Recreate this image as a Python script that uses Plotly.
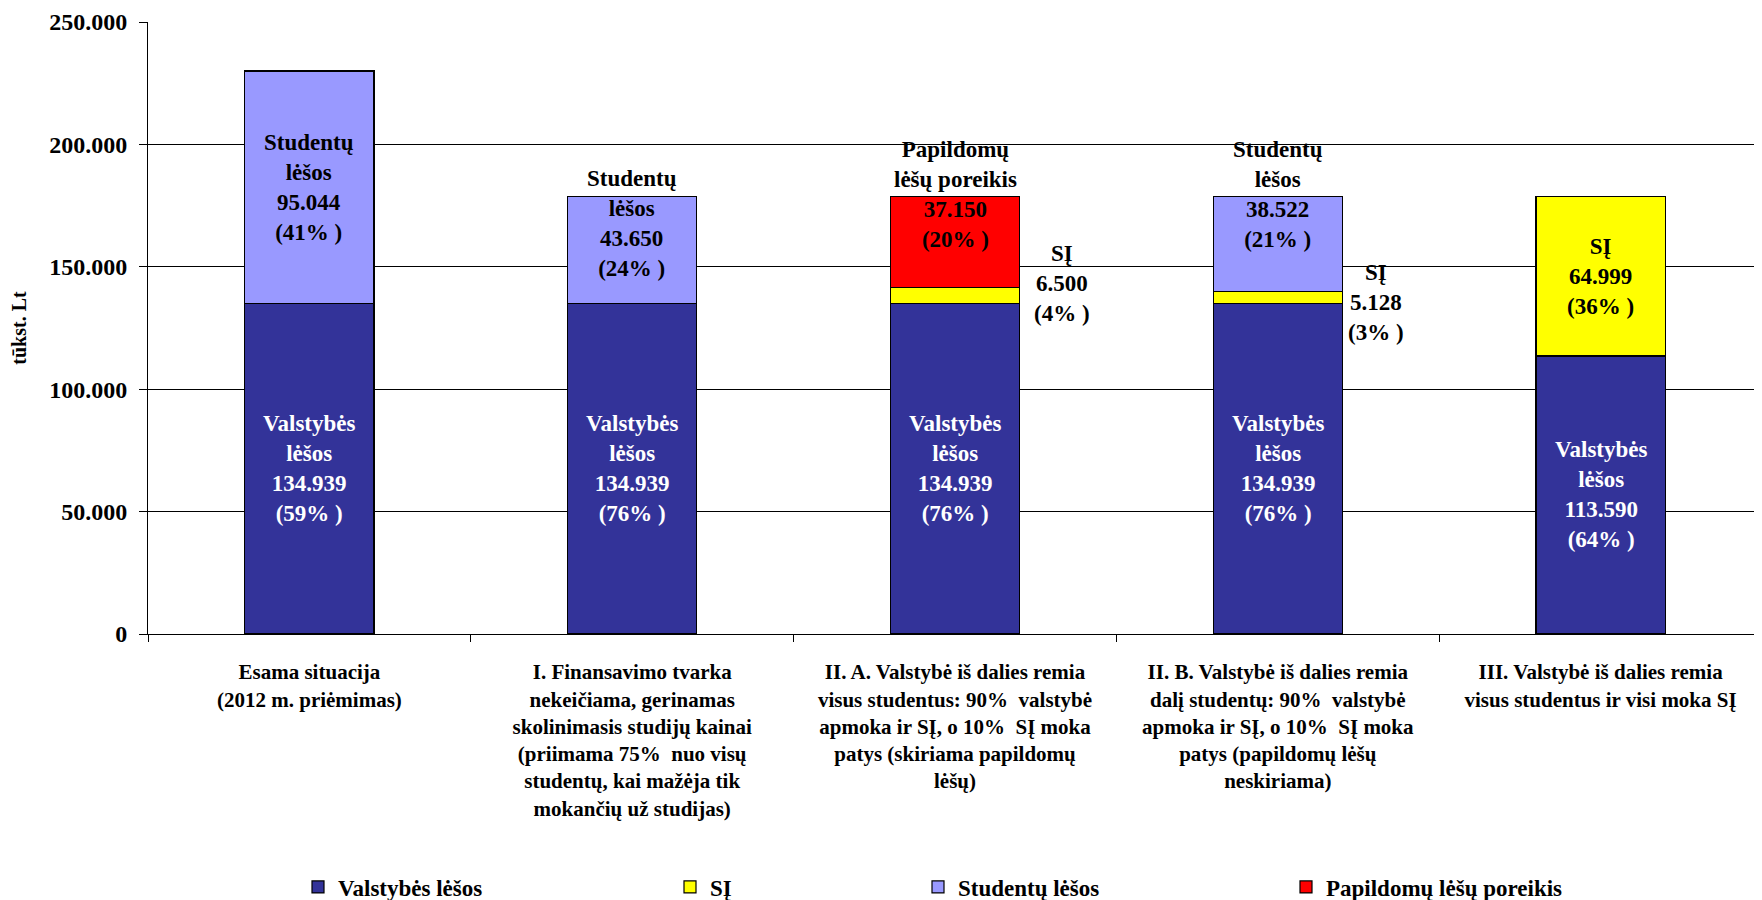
import plotly.graph_objects as go

categories = [
    "Esama situacija<br>(2012 m. priėmimas)",
    "I. Finansavimo tvarka<br>nekeičiama, gerinamas<br>skolinimasis studijų kainai<br>(priimama 75%  nuo visų<br>studentų, kai mažėja tik<br>mokančių už studijas)",
    "II. A. Valstybė iš dalies remia<br>visus studentus: 90%  valstybė<br>apmoka ir SĮ, o 10%  SĮ moka<br>patys (skiriama papildomų<br>lėšų)",
    "II. B. Valstybė iš dalies remia<br>dalį studentų: 90%  valstybė<br>apmoka ir SĮ, o 10%  SĮ moka<br>patys (papildomų lėšų<br>neskiriama)",
    "III. Valstybė iš dalies remia<br>visus studentus ir visi moka SĮ",
]
valstybes = [134939, 134939, 134939, 134939, 113590]
si = [None, None, 6500, 5128, 64999]
studentu = [95044, 43650, None, 38522, None]
papildomu = [None, None, 37150, None, None]

valstybes_pct = [59, 76, 76, 76, 64]
si_pct = [None, None, 4, 3, 36]
studentu_pct = [41, 24, None, 21, None]
papildomu_pct = [None, None, 20, None, None]

y_ticks = [0, 50000, 100000, 150000, 200000, 250000]

series = [
    ("Valstybės lėšos", valstybes, valstybes_pct, "#333399", "Valstybės<br>lėšos", "white", "legend"),
    ("SĮ", si, si_pct, "#FFFF00", "SĮ", "black", "legend2"),
    ("Studentų lėšos", studentu, studentu_pct, "#9999FF", "Studentų<br>lėšos", "black", "legend3"),
    ("Papildomų lėšų poreikis", papildomu, papildomu_pct, "#FF0000", "Papildomų<br>lėšų poreikis", "black", "legend4"),
]

# label offsets (px) per series per category: (xshift, yshift)
offsets = {
    "Studentų lėšos": {1: (0, 27), 3: (0, 49)},
    "Papildomų lėšų poreikis": {2: (0, 48)},
    "SĮ": {2: (107, 12), 3: (98, -5)},
}

FONT = "Liberation Serif"
fig = go.Figure()
base = [0] * len(categories)
annotations = []
for name, vals, pcts, color, lbl, tcolor, leg in series:
    fig.add_trace(go.Bar(
        name=name, x=categories, y=vals,
        marker=dict(color=color, line=dict(color="black", width=1.2)),
        legend=leg, hoverinfo="skip",
    ))
    for i, v in enumerate(vals):
        if v is None:
            continue
        xs, ys = offsets.get(name, {}).get(i, (0, 0))
        num = f"{v:,}".replace(",", ".")
        outside = xs != 0
        annotations.append(dict(
            x=categories[i], y=base[i] + v / 2, xref="x", yref="y",
            text=f"{lbl}<br>{num}<br>({pcts[i]}% )",
            showarrow=False, xshift=xs, yshift=ys,
            font=dict(family=FONT, size=23, color="black" if outside else tcolor, weight="bold"),
            align="center", xanchor="center", yanchor="middle",
        ))
        base[i] += v

fig.update_layout(annotations=annotations)

# The page body adds an 8px offset; compensate so the plot area sits at
# screen x 148..1762, y 22..634.
BODY = 8
L, R, T = 148 - BODY, 0, 22 - BODY
W, H = 1762 - BODY, 900 - BODY
PH = 612
B = H - T - PH
pw = W - L - R

def px_to_paper_x(px):
    return (px - BODY - L) / pw

def px_to_paper_y(py):
    return (T + BODY + PH - py) / PH

legend_text_starts = [338, 710, 958, 1326]
legend_common = dict(orientation="h", yanchor="middle", xanchor="left",
                     font=dict(family=FONT, size=23, color="black", weight="bold"),
                     bgcolor="rgba(0,0,0,0)", borderwidth=0)
leg_layout = {}
for k, ts in zip(["legend", "legend2", "legend3", "legend4"], legend_text_starts):
    leg_layout[k] = dict(legend_common, x=px_to_paper_x(ts - 40), y=px_to_paper_y(887))

fig.update_layout(
    barmode="stack",
    bargap=0.6,
    width=W, height=H,
    margin=dict(l=L, r=R, t=T, b=B, autoexpand=False),
    paper_bgcolor="white", plot_bgcolor="white",
    separators=",.",
    showlegend=True,
    **leg_layout,
)
fig.update_xaxes(
    type="category",
    tickson="boundaries", ticks="outside", ticklen=7, tickcolor="black", tickwidth=1,
    showline=True, linecolor="black", linewidth=1, showgrid=False,
    tickfont=dict(family=FONT, size=21, color="black", weight="bold"),
    tickangle=0, automargin=False, ticklabelstandoff=19,
)
fig.update_yaxes(
    range=[0, 250000], tickvals=y_ticks, tickformat=",d",
    ticks="outside", ticklen=8, tickcolor="black", tickwidth=1,
    showline=True, linecolor="black", linewidth=1,
    showgrid=True, gridcolor="black", gridwidth=1,
    zeroline=False, ticklabelstandoff=7,
    tickfont=dict(family=FONT, size=24, color="black", weight="bold"),
    title=dict(text="tūkst. Lt", font=dict(family=FONT, size=20, color="black", weight="bold"), standoff=22),
    automargin=False,
)

fig.write_html("out.html")
